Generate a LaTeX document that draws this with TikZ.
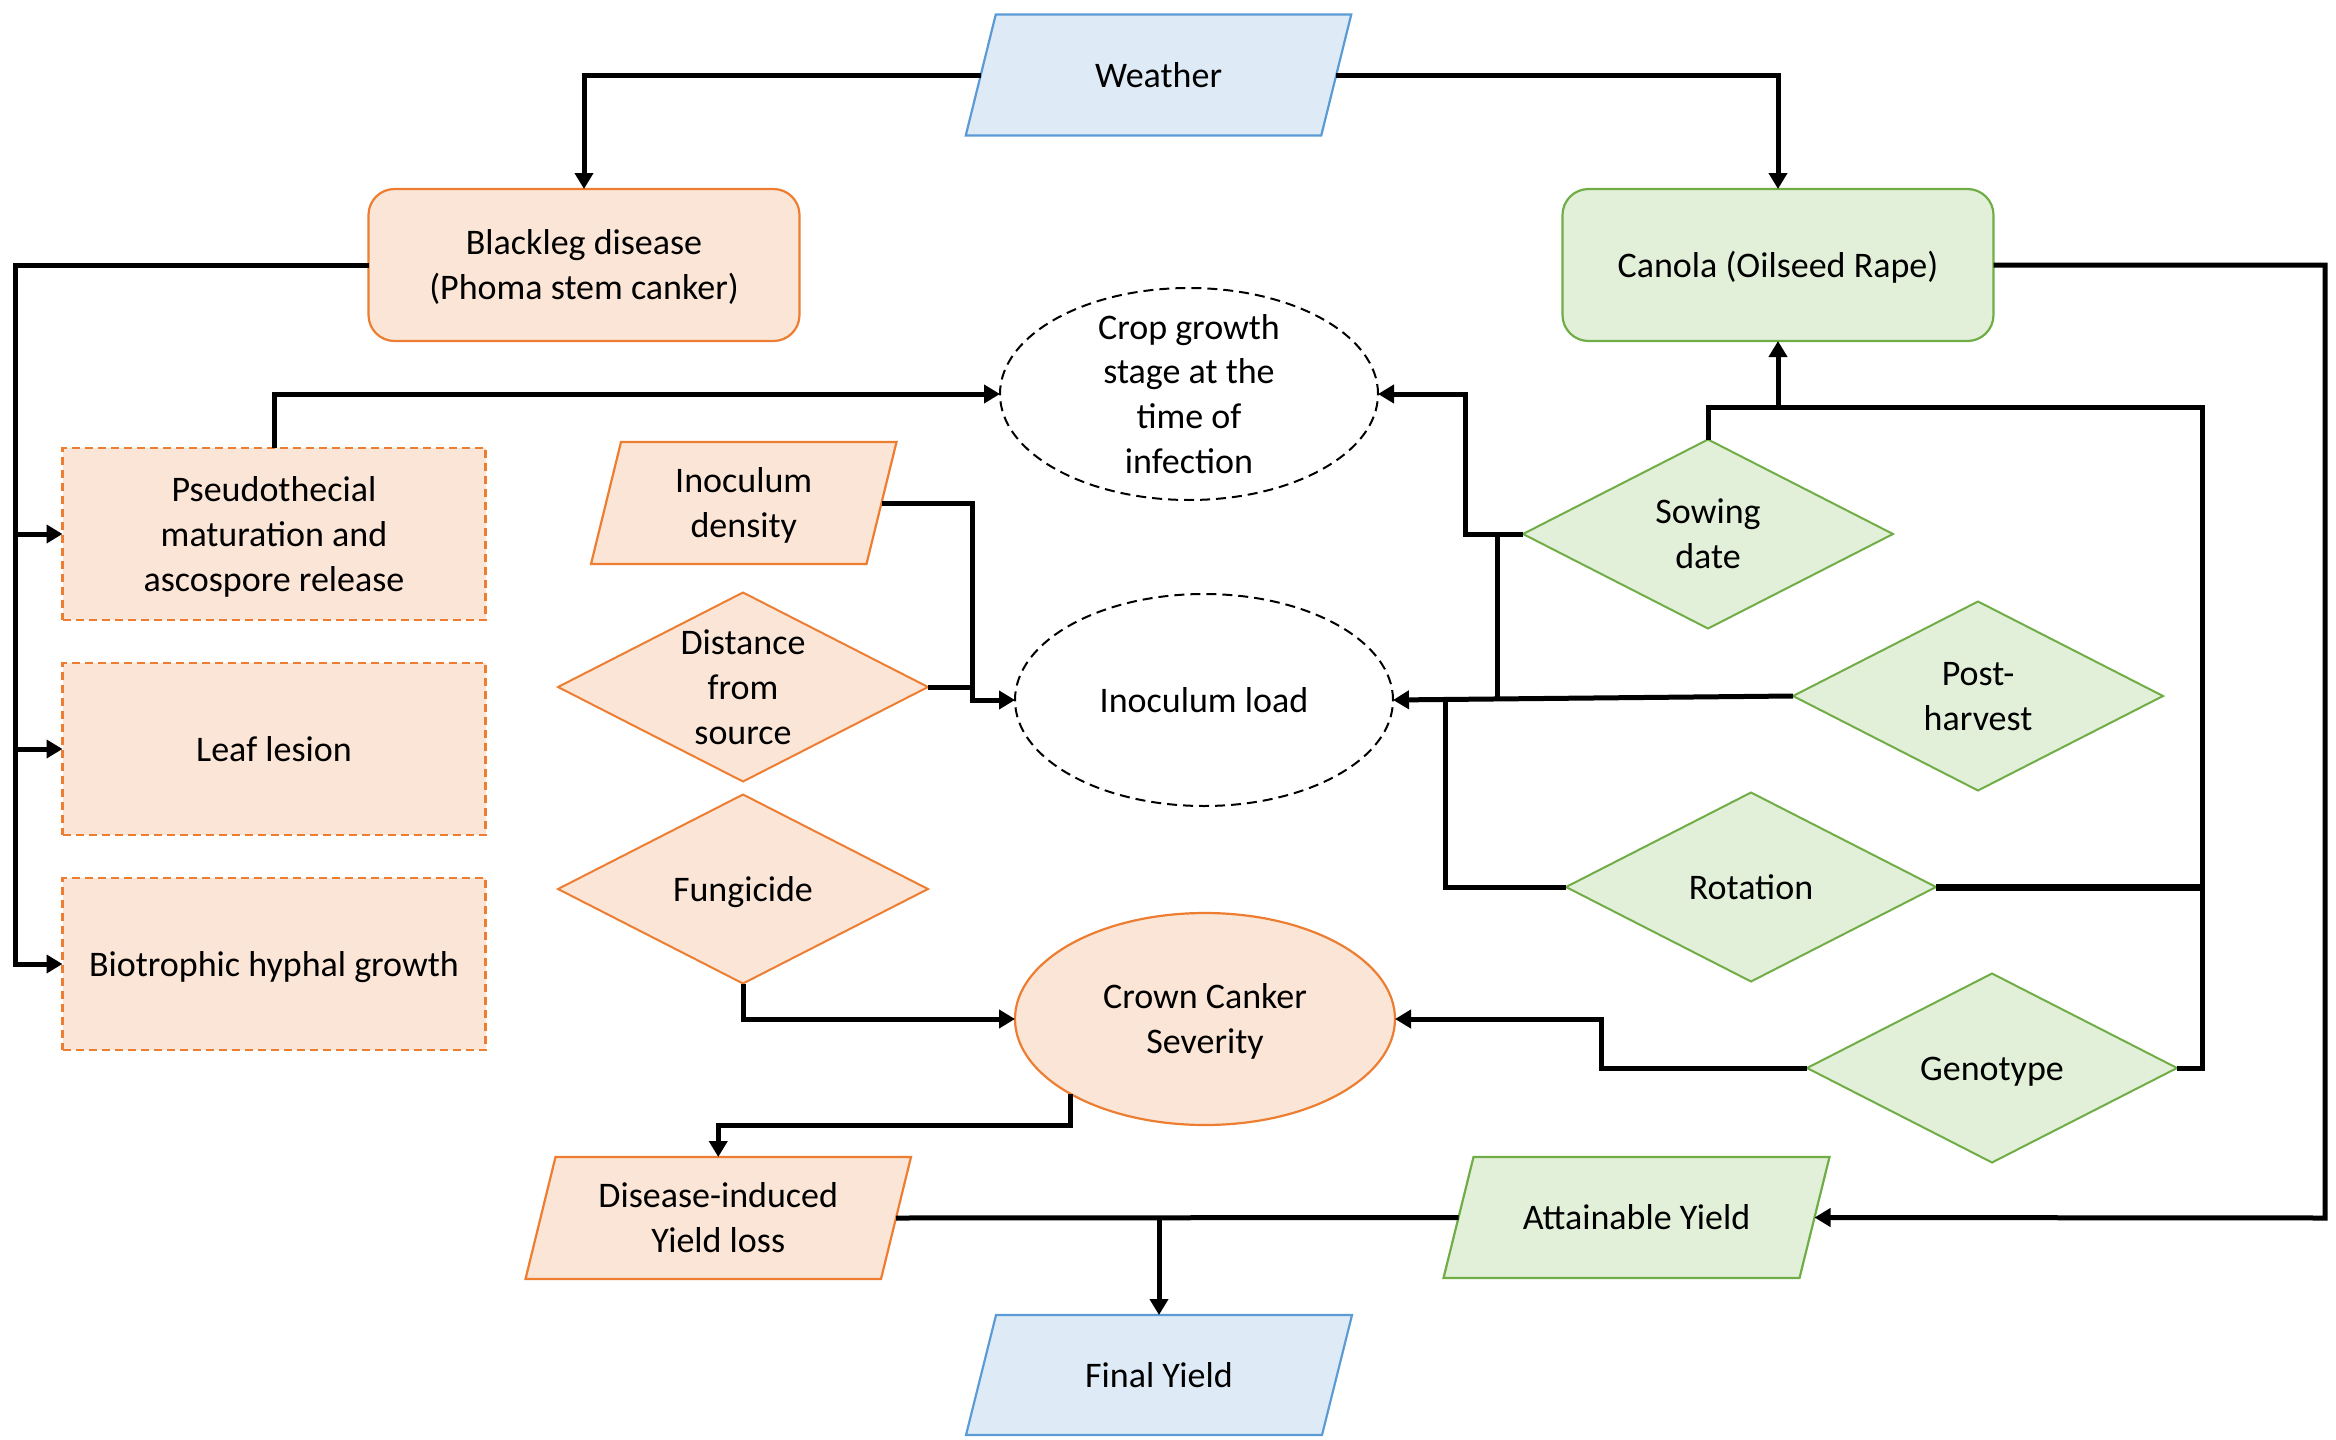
\documentclass[tikz,border=0pt]{standalone}
\usepackage{fontspec}
\setmainfont{Carlito}
\usetikzlibrary{shapes.geometric,arrows.meta,backgrounds}
\definecolor{ofill}{HTML}{FBE5D6}
\definecolor{oline}{HTML}{ED7D31}
\definecolor{gfill}{HTML}{E2F0D9}
\definecolor{gline}{HTML}{70AD47}
\definecolor{bfill}{HTML}{DEEBF7}
\definecolor{bline}{HTML}{5B9BD5}
\newcommand\ms{\rule[-4.84pt]{0pt}{21.98pt}}
\newcommand\drawpara[3]{%
  \begin{scope}[on background layer]
    \draw[#2] ([xshift=#3]#1.north west) -- ([xshift=#3]#1.north east) --
      ([xshift=-#3]#1.south east) -- ([xshift=-#3]#1.south west) -- cycle;
  \end{scope}}
\begin{document}
\begin{tikzpicture}[x=0.5pt,y=-0.5pt,
  font=\fontsize{18}{22.4}\selectfont,
  base/.style={align=center, inner sep=0pt, outer sep=0pt},
  orect/.style={base, draw=oline, fill=ofill, line width=1.1pt, rounded corners=13pt,
    minimum width=215.5pt, minimum height=76pt},
  grect/.style={base, draw=gline, fill=gfill, line width=1.1pt, rounded corners=13pt,
    minimum width=215.5pt, minimum height=76pt},
  odash/.style={base, draw=oline, fill=ofill, line width=1.1pt, dash pattern=on 4pt off 2.5pt,
    minimum width=211.5pt, minimum height=86pt},
  odia/.style={base, diamond, aspect=1.96, draw=oline, fill=ofill, line width=1pt,
    minimum width=185pt, minimum height=94.5pt},
  gdia/.style={base, diamond, aspect=1.96, draw=gline, fill=gfill, line width=1pt,
    minimum width=185pt, minimum height=94.5pt},
  dell/.style={base, ellipse, draw=black, dash pattern=on 5pt off 3pt, line width=1pt,
    minimum width=189pt, minimum height=106pt},
  oell/.style={base, ellipse, draw=oline, fill=ofill, line width=1.1pt,
    minimum width=190pt, minimum height=106pt},
  para/.style={base, minimum height=60.5pt},
  opar/.style={draw=oline, fill=ofill, line width=1.1pt},
  gpar/.style={draw=gline, fill=gfill, line width=1.1pt},
  bpar/.style={draw=bline, fill=bfill, line width=1.1pt},
  conn/.style={line width=2.5pt, -{Triangle[length=8pt,width=9pt]}},
  seg/.style={line width=2.5pt},
  thickseg/.style={line width=3.5pt}
]
\useasboundingbox (0,0) rectangle (2336,1440);

% nodes
\node[para, minimum width=177.75pt] (weather) at (1158.5,75) {\ms Weather\ms};
\drawpara{weather}{bpar}{7.5pt}
\node[orect] (blackleg) at (584,265) {\ms Blackleg disease\\(Phoma stem canker)\ms};
\node[grect] (canola) at (1778,265) {\ms Canola (Oilseed Rape)\ms};
\node[dell, inner ysep=-7.5pt] (crop) at (1189,394) {\ms Crop growth\\stage at the\\time of\\infection\ms};
\node[odash] (pseudo) at (274,534) {\ms Pseudothecial\\maturation and\\ascospore release\ms};
\node[odash] (leaf) at (274,749) {\ms Leaf lesion\ms};
\node[odash] (bio) at (274,964) {\ms Biotrophic hyphal growth\ms};
\node[para, minimum width=137.75pt, minimum height=61pt] (inocd) at (743.75,503) {\ms Inoculum\\density\ms};
\drawpara{inocd}{opar}{7.5pt}
\node[odia, inner sep=-4pt] (dist) at (743,687) {\ms Distance\\from\\source\ms};
\node[dell] (inocl) at (1204,700) {\ms Inoculum load\ms};
\node[odia] (fung) at (743,889) {\ms Fungicide\ms};
\node[oell] (crown) at (1205,1019) {\ms Crown Canker\\Severity\ms};
\node[gdia] (sow) at (1708,534) {\ms Sowing\\date\ms};
\node[gdia] (post) at (1978,696) {\ms Post-\\harvest\ms};
\node[gdia] (rot) at (1751,887) {\ms Rotation\ms};
\node[gdia] (geno) at (1992,1068) {\ms Genotype\ms};
\node[para, minimum width=177.75pt, minimum height=61pt] (dis) at (718.25,1218) {\ms Disease-induced\\Yield loss\ms};
\drawpara{dis}{opar}{7.5pt}
\node[para, minimum width=178pt] (att) at (1636.5,1217.5) {\ms Attainable Yield\ms};
\drawpara{att}{gpar}{7.5pt}
\node[para, minimum width=178pt, minimum height=60pt] (final) at (1159,1375) {\ms Final Yield\ms};
\drawpara{final}{bpar}{7.5pt}

% junction coordinates
\coordinate (lx) at (15,964);
\coordinate (j1) at (972,700);
\coordinate (j2) at (1465,394);
\coordinate (j3) at (1497,698);
\coordinate (j4) at (1445,700);
\coordinate (j5) at (2202,407);
\coordinate (j6) at (1601,1019);
\coordinate (j7) at (1072,1125);
\coordinate (j8) at (2325,1218);

% connectors
\draw[conn] (weather.west) -| (blackleg.north);
\draw[conn] (weather.east) -| (canola.north);
\draw[conn] (blackleg.west) -| (lx) -- (bio.west);
\draw[conn] (pseudo.west -| lx) -- (pseudo.west);
\draw[conn] (leaf.west -| lx) -- (leaf.west);
\draw[conn] (pseudo.north) |- (crop.west);
\draw[conn] (inocd.east) -| (j1) -- (inocl.west);
\draw[seg] (dist.east) -- (dist.east -| j1);
\draw[conn] (sow.west) -| (j2) -- (crop.east);
\draw[conn] (post.west) -- (inocl.east);
\draw[seg] (sow.west -| j3) -- (j3);
\draw[seg] (rot.west) -| (j4);
\draw[seg] (sow.north) |- (j5) |- (geno.east);
\draw[conn] (canola.south |- j5) -- (canola.south);
\draw[thickseg] (rot.east) -- (rot.east -| j5);
\draw[conn] (geno.west) -| (j6) -- (crown.east);
\draw[conn] (fung.south) |- (crown.west);
\draw[conn] (crown.south west) -- (crown.south west |- j7) -| (dis.north);
\draw[seg] (dis.east) -- (att.west);
\draw[conn] (final.north |- dis.east) -- (final.north);
\draw[conn] (canola.east) -| (j8) -- (att.east);
\end{tikzpicture}
\end{document}
